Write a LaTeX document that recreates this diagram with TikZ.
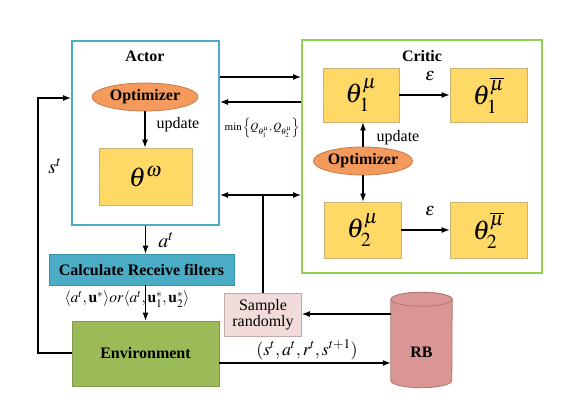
\documentclass[tikz,border=0pt]{standalone}
\usepackage{mathptmx}
\usepackage[no-math]{fontspec}
\setmainfont{Liberation Serif}
\usetikzlibrary{shapes.geometric,arrows.meta,calc}
\definecolor{actorc}{HTML}{4BACC6}
\definecolor{criticc}{HTML}{92D050}
\definecolor{yel}{HTML}{FFD966}
\definecolor{yelb}{HTML}{C9B27A}
\definecolor{orng}{HTML}{F39A5C}
\definecolor{orngb}{HTML}{C87A48}
\definecolor{calcf}{HTML}{4BACC6}
\definecolor{calcb}{HTML}{3A90A8}
\definecolor{envf}{HTML}{9BBB59}
\definecolor{envb}{HTML}{7F9A48}
\definecolor{smpf}{HTML}{F2DCDB}
\definecolor{smpb}{HTML}{C0A9A8}
\definecolor{rbf}{HTML}{D99694}
\definecolor{rbb}{HTML}{B07472}
\tikzset{
  big/.style={font=\fontsize{16}{18}\selectfont},
  bigb/.style={font=\fontsize{16}{18}\selectfont\bfseries},
  ybox/.style={draw=yelb, fill=yel, line width=0.8pt, inner sep=0pt, font=\fontsize{27}{30}\selectfont},
  opt/.style={ellipse, draw=orngb, fill=orng, line width=0.8pt, inner sep=0pt, font=\fontsize{16}{18}\selectfont\bfseries},
  arr/.style={line width=1.2pt, -{Latex[length=8pt,width=6pt]}},
  ln/.style={line width=1.2pt},
  cyl/.style={draw=rbb, fill=rbf, line width=0.8pt},
}
\begin{document}
\begin{tikzpicture}[x=1pt,y=-1pt]
\useasboundingbox (0,0) rectangle (581,411);
% containers
\node[draw=actorc, line width=2pt, minimum width=147pt, minimum height=184pt, inner sep=0pt] (actor) at (145.5,133) {};
\node[draw=criticc, line width=2pt, minimum width=240pt, minimum height=233pt, inner sep=0pt] (critic) at (422,156.5) {};
\node[bigb] (actorl) at (145,56) {Actor};
\node[bigb] (criticl) at (422,56) {Critic};
% actor contents
\node[opt, minimum width=106pt, minimum height=28pt] (optA) at (145,97) {Optimizer};
\node[ybox, minimum width=93pt, minimum height=57pt] (thw) at (145.5,176.5) {$\theta^{\omega}$};
\draw[arr] (optA.south) -- (optA.south |- thw.north);
\node[big] (updA) at (178,125) {update};
% critic contents
\node[ybox, minimum width=76pt, minimum height=54pt] (t1) at (361,95) {$\theta_1^{\mu}$};
\node[ybox, minimum width=77pt, minimum height=54pt] (t1b) at (488.5,95) {$\theta_1^{\overline{\mu}}$};
\node[ybox, minimum width=77pt, minimum height=56pt] (t2) at (362.5,230) {$\theta_2^{\mu}$};
\node[ybox, minimum width=77pt, minimum height=56pt] (t2b) at (488.5,230) {$\theta_2^{\overline{\mu}}$};
\node[opt, minimum width=92pt, minimum height=28pt] (optC) at (363,161) {Optimizer};
\draw[arr] (optC.north) -- (optC.north |- t1.south);
\draw[arr] (optC.south) -- (optC.south |- t2.north);
\node[big] (updC) at (398,138) {update};
\draw[arr] (t1.east) -- (t1b.west |- t1.east);
\draw[arr] (t2.east) -- (t2b.west |- t2.east);
\node[font=\fontsize{18}{20}\selectfont] (e1) at (430,76) {$\varepsilon$};
\node[font=\fontsize{18}{20}\selectfont] (e2) at (430,211) {$\varepsilon$};
% lower nodes
\node[draw=calcb, fill=calcf, line width=0.8pt, minimum width=185pt, minimum height=31pt, inner sep=0pt, bigb] (calc) at (141.5,269.5) {Calculate Receive filters};
\node[draw=envb, fill=envf, line width=0.8pt, minimum width=147pt, minimum height=65pt, inner sep=0pt, bigb] (env) at (145.5,353.5) {Environment};
\node[draw=smpb, fill=smpf, line width=0.8pt, minimum width=77pt, minimum height=43pt, inner sep=0pt, big, align=center] (smp) at (263,314.5) {Sample\\[-2pt]randomly};
% RB cylinder
\node[minimum width=61pt, minimum height=95pt, inner sep=0pt] (rb) at (421.5,340) {};
\draw[cyl] ($(rb.north west)+(0,7)$) -- ($(rb.south west)+(0,-7)$)
  arc[start angle=180, end angle=360, x radius=30.5pt, y radius=7pt]
  -- ($(rb.north east)+(0,7)$)
  arc[start angle=0, end angle=180, x radius=30.5pt, y radius=7pt] -- cycle;
\draw[cyl] ($(rb.north)+(0,7)$) ellipse [x radius=30.5pt, y radius=7pt];
\node[bigb] (rbl) at (421.5,352) {RB};
% connectors actor <-> critic
\coordinate (ya) at (0,77);
\coordinate (yb) at (0,102);
\coordinate (yc) at (0,195);
\coordinate (xs) at (263,0);
\draw[arr] (actor.east |- ya) -- (critic.west |- ya);
\draw[arr] (critic.west |- yb) -- (actor.east |- yb);
\node[font=\fontsize{11}{12}\selectfont] (minl) at (262,128) {$\min\left\{Q_{\theta_1^{\mu}},Q_{\theta_2^{\mu}}\right\}$};
\draw[line width=1.2pt, {Latex[length=8pt,width=6pt]}-{Latex[length=8pt,width=6pt]}] (actor.east |- yc) -- (critic.west |- yc);
\draw[ln] (xs |- yc) -- (smp.north);
% vertical flow
\draw[arr] (thw.south |- actor.south) -- (thw.south |- calc.north);
\node[font=\fontsize{20}{22}\selectfont] (atl) at (166,240) {$a^t$};
\draw[arr] (thw.south |- calc.south) -- (thw.south |- env.north);
\node[font=\fontsize{15.5}{17}\selectfont] (ul) at (127,299) {$\langle a^t,\mathbf{u}^*\rangle or\langle a^t,\mathbf{u}_1^*,\mathbf{u}_2^*\rangle$};
% RB connections
\coordinate (y1) at (0,314);
\coordinate (y2) at (0,363);
\draw[arr] (rb.west |- y1) -- (smp.east |- y1);
\draw[arr] (env.east |- y2) -- (rb.west |- y2);
\node[font=\fontsize{18}{20}\selectfont] (tup) at (307,350) {$(s^t,a^t,r^t,s^{t+1})$};
% feedback loop
\coordinate (yl) at (0,353);
\coordinate (xl) at (38,0);
\coordinate (yt) at (0,98);
\draw[arr] (env.west |- yl) -- (xl |- yl) -- (xl |- yt) -- (actor.west |- yt);
\node[font=\fontsize{20}{22}\selectfont] (stl) at (55,166) {$s^t$};
\end{tikzpicture}
\end{document}
